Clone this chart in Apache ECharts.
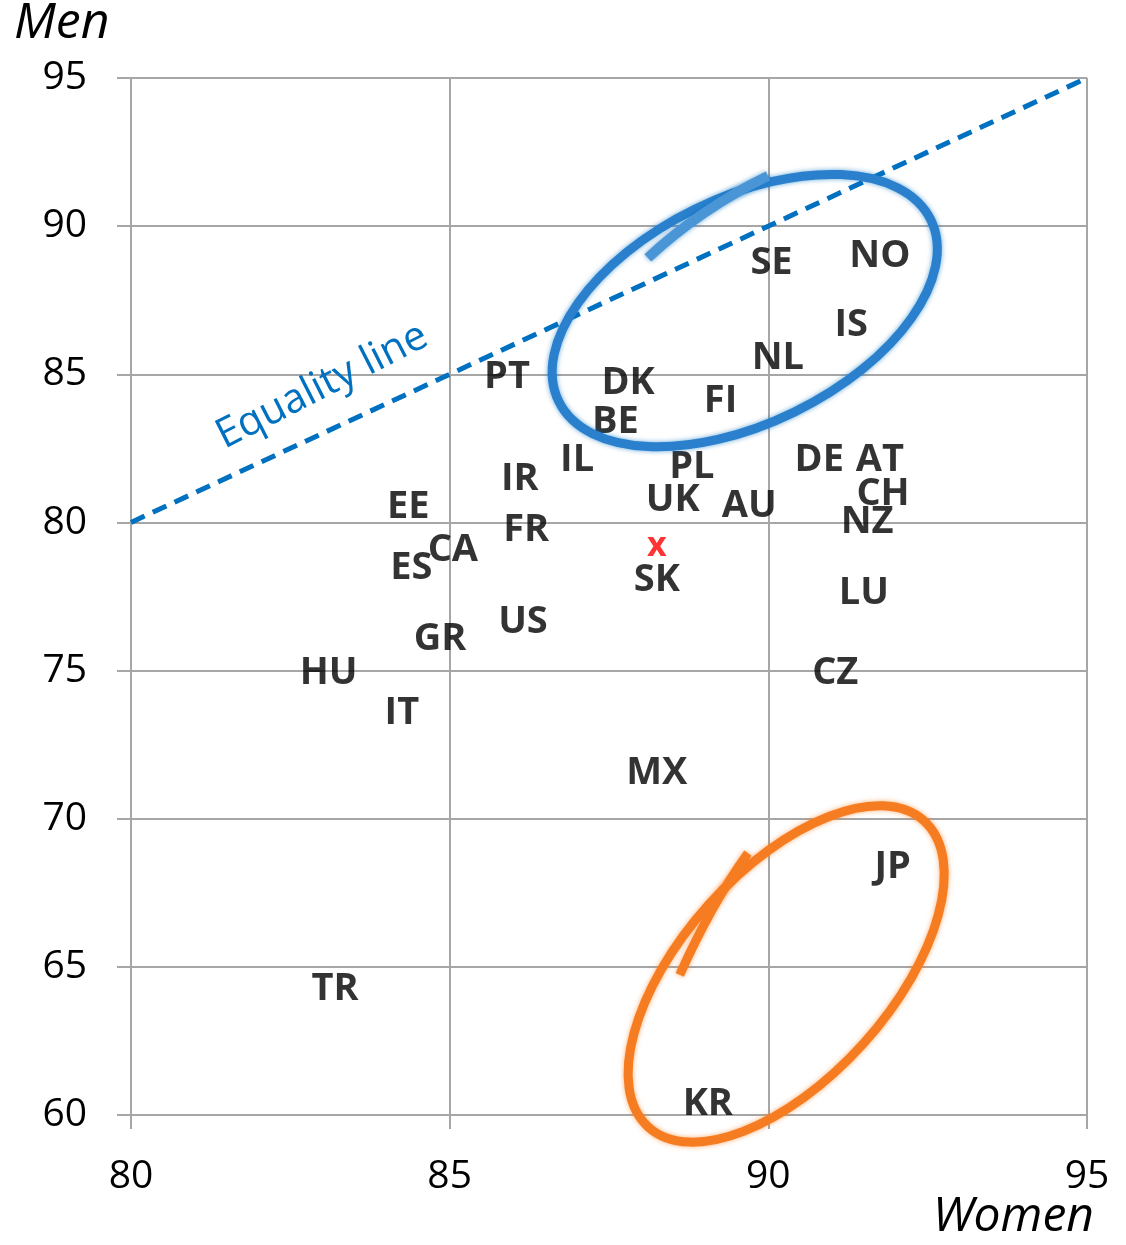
<!DOCTYPE html>
<html>
<head>
<meta charset="utf-8">
<script src="https://cdn.jsdelivr.net/npm/echarts@6/dist/echarts.min.js"></script>
<style>
  html, body { margin: 0; padding: 0; background: #fff; }
  #chart { width: 1126px; height: 1245px; }
</style>
</head>
<body>
<div id="chart"></div>
<script>
// country codes with scores (women on x, men on y)
const countries = ["SE", "NO", "IS", "NL", "PT", "DK", "FI", "BE", "IL", "IR", "PL", "DE", "AT", "CH",
  "EE", "UK", "AU", "NZ", "FR", "CA", "ES", "SK", "LU", "US", "GR", "HU", "CZ", "IT", "MX", "JP", "TR", "KR"];
const women = [90.05, 91.75, 91.3, 90.15, 85.9, 87.8, 89.25, 87.6, 87.0, 86.1, 88.8, 90.8, 91.75, 91.8,
  84.35, 88.5, 89.7, 91.55, 86.2, 85.05, 84.4, 88.25, 91.5, 86.15, 84.85, 83.1, 91.05, 84.25, 88.25, 91.95, 83.2, 89.05];
const men = [88.85, 89.1, 86.75, 85.65, 85.0, 84.8, 84.2, 83.5, 82.2, 81.55, 81.95, 82.2, 82.2, 81.05,
  80.6, 80.85, 80.65, 80.1, 79.85, 79.15, 78.55, 78.15, 77.7, 76.75, 76.15, 75.0, 75.0, 73.65, 71.65, 68.45, 64.35, 60.45];

// the red "x" marker (average)
const avgPoint = [88.25, 79.2];

// equality line end points
const equality = [[80, 80], [95, 95]];

const xTicks = { min: 80, max: 95, interval: 5 };
const yTicks = { min: 60, max: 95, interval: 5 };

const chartDom = document.getElementById("chart");
const myChart = echarts.init(chartDom);

const gridColor = "#a6a6a6";
const axisCommon = {
  axisLine: { show: true, lineStyle: { color: gridColor, width: 2 } },
  axisTick: { show: true, length: 14, lineStyle: { color: gridColor, width: 2 } },
  splitLine: { show: true, lineStyle: { color: gridColor, width: 2 } }
};

const points = countries.map((c, i) => ({ name: c, value: [women[i], men[i]] }));

const option = {
  backgroundColor: "#fff",
  animation: false,
  grid: { left: 131, right: 39, top: 78, bottom: 130 },
  xAxis: Object.assign({
    type: "value",
    min: xTicks.min,
    max: xTicks.max,
    interval: xTicks.interval,
    axisLabel: { fontSize: 39, color: "#000", fontFamily: "Open Sans", margin: 42 }
  }, axisCommon),
  yAxis: Object.assign({
    type: "value",
    min: yTicks.min,
    max: yTicks.max,
    interval: yTicks.interval,
    axisLabel: { fontSize: 39, color: "#000", fontFamily: "Open Sans", margin: 44 }
  }, axisCommon),
  series: [
    {
      type: "line",
      data: equality,
      symbol: "none",
      lineStyle: { color: "#0070c0", width: 5, type: [15, 9] },
      z: 3
    },
    {
      type: "scatter",
      data: points,
      symbolSize: 1,
      itemStyle: { color: "transparent" },
      label: {
        show: true,
        position: "inside",
        offset: [0, 3],
        formatter: p => p.name,
        fontFamily: "Open Sans",
        fontWeight: "bold",
        fontSize: 38,
        color: "#000",
        textBorderWidth: 0
      },
      emphasis: { disabled: true },
      z: 5
    },
    {
      type: "scatter",
      data: [avgPoint],
      symbolSize: 1,
      itemStyle: { color: "transparent" },
      label: {
        show: true,
        position: "inside",
        formatter: "x",
        fontFamily: "Open Sans",
        fontWeight: "bold",
        fontSize: 34,
        color: "#ff0000",
        textBorderWidth: 0
      },
      emphasis: { disabled: true },
      z: 5
    }
  ]
};

myChart.setOption(option);

// hand-drawn style annotations, anchored in data space
function px(pt) {
  return myChart.convertToPixel({ gridIndex: 0 }, pt);
}

const blueC = px([89.63, 87.15]);
const orangeC = px([90.28, 64.76]);
const blueTail = [px([88.11, 88.93]), px([88.95, 90.6]), px([89.995, 91.69])];
const orangeTail = [px([88.61, 64.73]), px([89.1, 67.1]), px([89.68, 68.84])];
const eqText = px([83.0, 84.6]);

const blueStyle = {
  fill: null,
  stroke: "#2a80cc",
  lineWidth: 9,
  shadowBlur: 5,
  shadowColor: "rgba(0,112,192,0.6)"
};
const orangeStyle = {
  fill: null,
  stroke: "#f67c22",
  lineWidth: 9,
  shadowBlur: 5,
  shadowColor: "rgba(250,120,20,0.6)"
};

myChart.setOption({
  graphic: [
    {
      type: "ellipse",
      x: blueC[0],
      y: blueC[1],
      rotation: 26 * Math.PI / 180,
      shape: { cx: 0, cy: 0, rx: 207, ry: 113 },
      style: blueStyle,
      z: 10
    },
    {
      type: "bezierCurve",
      shape: {
        x1: blueTail[0][0], y1: blueTail[0][1],
        cpx1: blueTail[1][0], cpy1: blueTail[1][1],
        x2: blueTail[2][0], y2: blueTail[2][1]
      },
      style: Object.assign({}, blueStyle, { lineWidth: 10, stroke: "#4a95d6" }),
      z: 10
    },
    {
      type: "ellipse",
      x: orangeC[0],
      y: orangeC[1],
      rotation: 48 * Math.PI / 180,
      shape: { cx: 0, cy: 0, rx: 206, ry: 104 },
      style: orangeStyle,
      z: 10
    },
    {
      type: "bezierCurve",
      shape: {
        x1: orangeTail[0][0], y1: orangeTail[0][1],
        cpx1: orangeTail[1][0], cpy1: orangeTail[1][1],
        x2: orangeTail[2][0], y2: orangeTail[2][1]
      },
      style: orangeStyle,
      z: 10
    },
    {
      type: "text",
      x: eqText[0],
      y: eqText[1],
      rotation: 27 * Math.PI / 180,
      style: {
        text: "Equality line",
        fontFamily: "Open Sans",
        fontSize: 41,
        fill: "#0070c0",
        align: "center",
        verticalAlign: "middle"
      },
      z: 10
    },
    {
      type: "text",
      left: 14,
      top: -1,
      style: {
        text: "Men",
        fontFamily: "Open Sans",
        fontStyle: "italic",
        fontSize: 50,
        fill: "#000"
      }
    },
    {
      type: "text",
      right: 32,
      top: 1193,
      style: {
        text: "Women",
        fontFamily: "Open Sans",
        fontStyle: "italic",
        fontSize: 48,
        fill: "#000"
      }
    }
  ]
});
</script>
</body>
</html>
